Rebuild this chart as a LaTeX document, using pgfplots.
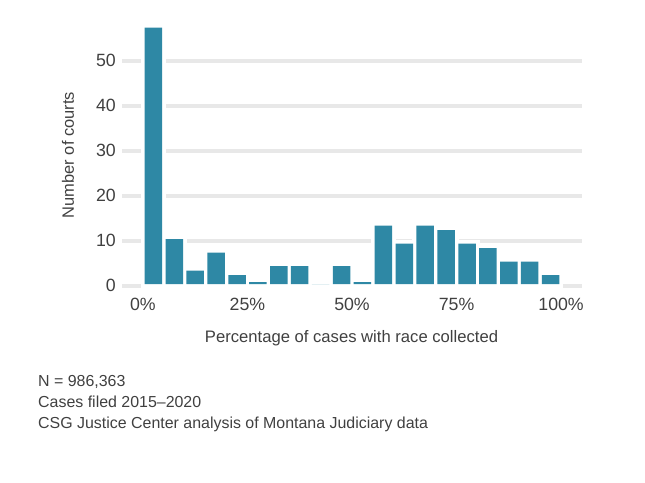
\documentclass[border=0pt]{standalone}
\usepackage{pgfplots}
\usepackage{pgfplotstable}
\pgfplotsset{compat=1.18}
\usepackage{fontspec}
\setmainfont{Liberation Sans}
\definecolor{barc}{RGB}{46,136,165}
\definecolor{txt}{RGB}{64,64,64}
\definecolor{grd}{RGB}{232,232,232}
\pgfplotstableread{
x y
2.5 57
7.5 10
12.5 3
17.5 7
22.5 2
27.5 0.4
32.5 4
37.5 4
42.5 0
47.5 4
52.5 0.4
57.5 13
62.5 9
67.5 13
72.5 12
77.5 9
82.5 8
87.5 5
92.5 5
97.5 2
}\histdata
\begin{document}
\begin{tikzpicture}
\path[use as bounding box] (0bp,0bp) rectangle (645bp,-483bp);
\begin{axis}[
  at={(122bp,-290.3bp)}, anchor=south west,
  scale only axis, width=460bp, height=265.5bp,
  xmin=-5, xmax=105, ymin=-1, ymax=58,
  axis line style={draw=none},
  major tick length=0pt,
  ytick={0,10,...,50},
  xtick={0,25,50,75,100},
  xticklabels={0\%,25\%,50\%,75\%,100\%},
  ymajorgrids,
  grid style={grd, line width=3.5bp},
  /pgf/number format/assume math mode=true,
  ticklabel style={font=\fontsize{17.8}{17.8}\selectfont, text=txt},
  yticklabel style={inner sep=0pt, xshift=-6bp},
  xticklabel style={inner sep=0pt, yshift=-7.5bp},
  clip=false,
]
\addplot[ybar, bar width=17.5bp, bar shift=0pt, fill=white, draw=white, line width=8bp, yshift=1.8bp] table[x=x,y=y] {\histdata};
\addplot[ybar, bar width=17.5bp, bar shift=0pt, fill=barc, draw=none, yshift=1.8bp] table[x=x,y=y] {\histdata};
\end{axis}
\node[anchor=base, font=\fontsize{16.7}{16.7}\selectfont, text=txt] at (351.5bp,-342bp) {Percentage of cases with race collected};
\node[rotate=90, font=\fontsize{16.5}{16.5}\selectfont, text=txt] at (68bp,-155bp) {Number of courts};
\node[anchor=base west, font=\fontsize{16}{16}\selectfont, text=txt, inner sep=0pt] at (38bp,-386bp) {N = 986,363};
\node[anchor=base west, font=\fontsize{16}{16}\selectfont, text=txt, inner sep=0pt] at (38bp,-407bp) {Cases filed 2015–2020};
\node[anchor=base west, font=\fontsize{16}{16}\selectfont, text=txt, inner sep=0pt] at (38bp,-428bp) {CSG Justice Center analysis of Montana Judiciary data};
\end{tikzpicture}
\end{document}
